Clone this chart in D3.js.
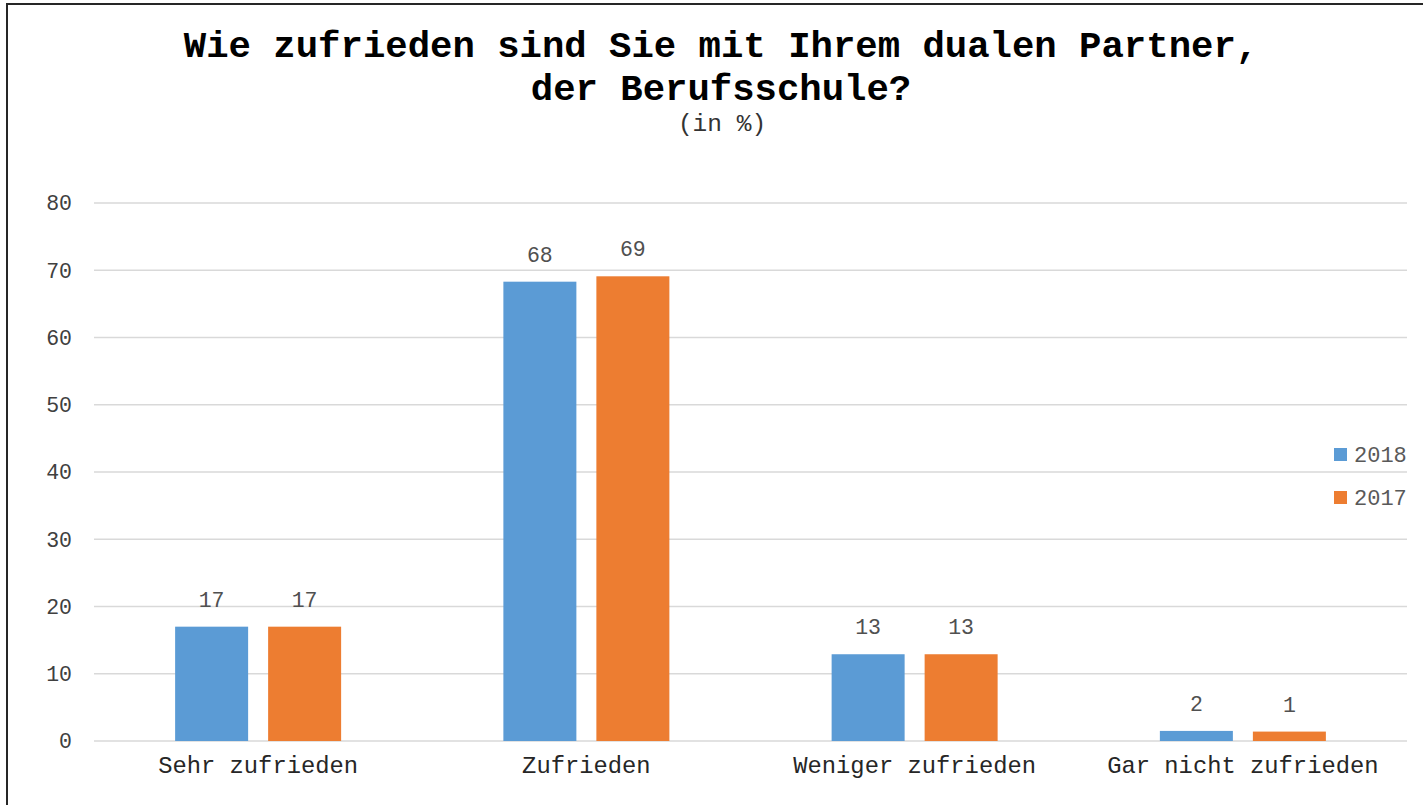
<!DOCTYPE html>
<html><head><meta charset="utf-8">
<script src="https://cdn.jsdelivr.net/npm/d3@7"></script>
<style>html,body{margin:0;padding:0;background:#fff;overflow:hidden}</style>
</head><body>
<svg id="c" width="1423" height="805"></svg>
<script>
const categories = ["Sehr zufrieden","Zufrieden","Weniger zufrieden","Gar nicht zufrieden"];
const seriesNames = ["2018","2017"];
const values2018 = [17, 68.3, 12.9, 1.5];
const values2017 = [17, 69.1, 12.9, 1.4];
const labels2018 = ["17","68","13","2"];
const labels2017 = ["17","69","13","1"];
const yTicks = [0,10,20,30,40,50,60,70,80];
const titleLines = ["Wie zufrieden sind Sie mit Ihrem dualen Partner,","der Berufsschule?"];
const subtitle = "(in %)";

const colors = {"2018":"#5B9BD5","2017":"#ED7D31"};
const svg = d3.select("#c");
const mono = "'Liberation Mono', 'DejaVu Sans Mono', monospace";

svg.append("rect").attr("x",7).attr("y",4).attr("width",1600).attr("height",1000)
  .attr("fill","none").attr("stroke","#262626").attr("stroke-width",2);

const L=94, R=1407, T=203, B=741;
const y = d3.scaleLinear().domain([0,80]).range([B,T]);
const x0 = d3.scaleBand().domain(categories).range([L,R]);
const groupW = 166;
const x1 = d3.scaleBand().domain(seriesNames).range([0,groupW]).paddingInner(20/93);
const off = (x0.bandwidth()-groupW)/2;

// gridlines
svg.append("g").selectAll("line").data(yTicks).join("line")
  .attr("x1",L).attr("x2",R).attr("y1",d=>y(d)).attr("y2",d=>y(d))
  .attr("stroke","#d9d9d9").attr("stroke-width",1.5);

// y axis labels
const yAxis = d3.axisLeft(y).tickValues(yTicks).tickSize(0).tickPadding(0);
const ya = svg.append("g").attr("transform",`translate(72,0)`).call(yAxis);
ya.select(".domain").remove();
ya.selectAll("text").attr("font-family",mono).attr("font-size",21.5).attr("fill","#404040");

// x axis labels
const xAxis = d3.axisBottom(x0).tickSize(0).tickPadding(0);
const xa = svg.append("g").attr("transform",`translate(0,${B+15})`).call(xAxis);
xa.select(".domain").remove();
xa.selectAll("text").attr("font-family",mono).attr("font-size",23.8).attr("fill","#262626");

const data = categories.map((c,i)=>({cat:c, vals:[
  {s:"2018",v:values2018[i],l:labels2018[i]},
  {s:"2017",v:values2017[i],l:labels2017[i]}]}));

const g = svg.append("g").selectAll("g").data(data).join("g")
  .attr("transform",d=>`translate(${x0(d.cat)+off},0)`);
g.selectAll("rect").data(d=>d.vals).join("rect")
  .attr("x",d=>x1(d.s)).attr("width",x1.bandwidth())
  .attr("y",d=>y(d.v)).attr("height",d=>B-y(d.v)).attr("fill",d=>colors[d.s]);
g.selectAll("text").data(d=>d.vals).join("text")
  .attr("x",d=>x1(d.s)+x1.bandwidth()/2).attr("y",d=>y(d.v)-20)
  .attr("text-anchor","middle").attr("font-family",mono).attr("font-size",21.5)
  .attr("fill","#505050").text(d=>d.l);

// title
svg.append("g").selectAll("text").data(titleLines).join("text")
  .attr("x",721).attr("y",(d,i)=>57+i*43).attr("text-anchor","middle")
  .attr("font-family",mono).attr("font-weight","bold").attr("font-size",37.3)
  .attr("fill","#000").text(d=>d);
svg.append("text").attr("x",722).attr("y",131).attr("text-anchor","middle")
  .attr("font-family",mono).attr("font-size",24.5).attr("fill","#333").text(subtitle);

// legend
const lg = svg.append("g").selectAll("g").data(seriesNames).join("g")
  .attr("transform",(d,i)=>`translate(1334,${448+i*43})`);
lg.append("rect").attr("width",13).attr("height",13).attr("fill",d=>colors[d]);
lg.append("text").attr("x",20).attr("y",13.5).attr("font-family",mono).attr("font-size",22)
  .attr("fill","#595959").text(d=>d);
</script>
</body></html>
